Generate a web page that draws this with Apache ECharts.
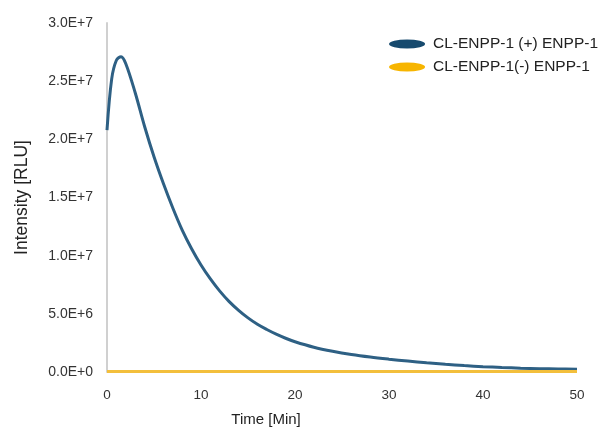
<!DOCTYPE html>
<html lang="en">
<head>
    <meta charset="UTF-8">
    <title>CL-ENPP-1</title>
    <script src="https://cdn.jsdelivr.net/npm/echarts@6/dist/echarts.min.js"></script>
</head>
<body style="margin:0">
<div id="main" style="width: 603px;height:427px;"></div>
<script type="text/javascript">
    // time points (min)
    var times = [0, 0.5, 1, 1.5, 2, 3, 4, 5, 6, 7, 8, 9, 10, 11, 12, 13, 14, 15, 16, 17, 18, 19, 20,
        22, 24, 26, 28, 30, 32, 34, 36, 38, 40, 42, 44, 46, 48, 50];
    // intensity, in units of 1E7 RLU
    var withEnpp = [2.08, 2.52, 2.68, 2.71, 2.65, 2.40, 2.11, 1.85, 1.62, 1.41, 1.22, 1.06, 0.92, 0.80, 0.695,
        0.605, 0.53, 0.465, 0.41, 0.365, 0.325, 0.29, 0.26, 0.213, 0.178, 0.15, 0.128, 0.11, 0.094, 0.079,
        0.066, 0.055, 0.046, 0.039, 0.033, 0.029, 0.026, 0.023];
    var withoutEnpp = [0.004, 0.004, 0.004, 0.004, 0.004, 0.004, 0.004, 0.004, 0.004, 0.004, 0.004, 0.004, 0.004,
        0.004, 0.004, 0.004, 0.004, 0.004, 0.004, 0.004, 0.004, 0.004, 0.004, 0.004, 0.004, 0.004, 0.004,
        0.004, 0.004, 0.004, 0.004, 0.004, 0.004, 0.004, 0.004, 0.004, 0.004, 0.004];
    var names = ['CL-ENPP-1 (+) ENPP-1', 'CL-ENPP-1(-) ENPP-1'];

    function pairs(vals) {
        var out = [];
        for (let i = 0; i < times.length; i++) {
            out.push([times[i], vals[i] * 1e7]);
        }
        return out;
    }

    var ellipse = 'path://M0,5 A20,5 0 1,1 40,5 A20,5 0 1,1 0,5 Z';

    var myChart = echarts.init(document.getElementById('main'));
    var option = {
        animation: false,
        color: ['#2e6084', '#f3bf3c'],
        textStyle: {fontFamily: 'Liberation Sans, Arial, sans-serif'},
        grid: {left: 107, right: 26, top: 23, bottom: 55, outerBoundsMode: 'none', containLabel: false},
        legend: {
            orient: 'vertical',
            right: 0,
            top: 31,
            itemWidth: 42,
            itemHeight: 9,
            itemGap: 7,
            textStyle: {fontSize: 15.5, color: '#222'},
            data: [
                {name: names[0], icon: ellipse, itemStyle: {color: '#174a6e'}},
                {name: names[1], icon: ellipse, itemStyle: {color: '#f7b500'}}
            ]
        },
        xAxis: {
            type: 'value',
            min: 0,
            max: 50,
            interval: 10,
            name: 'Time [Min]',
            nameLocation: 'middle',
            nameGap: 40,
            nameTextStyle: {fontSize: 15, color: '#222', padding: [0, 152, 0, 0]},
            axisLine: {show: false},
            axisTick: {show: false},
            splitLine: {show: false},
            axisLabel: {fontSize: 13.5, color: '#333', margin: 16}
        },
        yAxis: {
            type: 'value',
            min: 0,
            max: 3e7,
            interval: 5e6,
            name: 'Intensity [RLU]',
            nameLocation: 'middle',
            nameGap: 76,
            nameTextStyle: {fontSize: 17.5, color: '#222'},
            axisLine: {show: true, lineStyle: {color: '#d0d0d0', width: 2}},
            axisTick: {show: false},
            splitLine: {show: false},
            axisLabel: {
                fontSize: 14,
                color: '#333',
                margin: 14,
                formatter: function (v) {
                    return v.toExponential(1).toUpperCase();
                }
            }
        },
        series: [
            {
                name: names[0],
                type: 'line',
                data: pairs(withEnpp),
                smooth: 0.35,
                showSymbol: false,
                lineStyle: {width: 3}
            },
            {
                name: names[1],
                type: 'line',
                data: pairs(withoutEnpp),
                smooth: true,
                showSymbol: false,
                lineStyle: {width: 3}
            }
        ]
    };
    myChart.setOption(option);
</script>
</body>
</html>
